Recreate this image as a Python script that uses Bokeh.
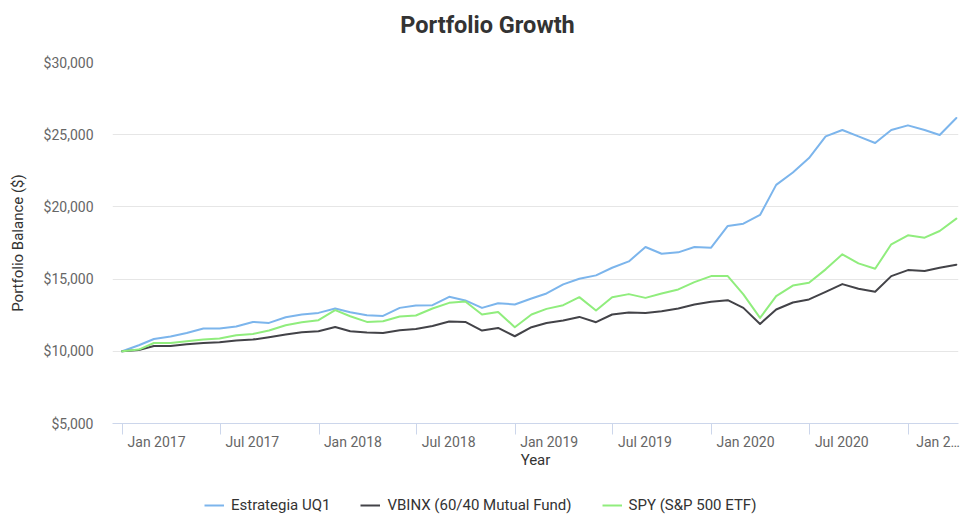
import pandas as pd
from bokeh.plotting import figure
from bokeh.layouts import column
from bokeh.models import (FixedTicker, NumeralTickFormatter, LinearAxis, CustomJSTickFormatter,
                          Legend, LegendItem, Range1d, ColumnDataSource, Label)
from bokeh.embed import file_html
from bokeh.resources import INLINE

# ---------------- data ----------------
dates = pd.date_range("2017-01-01", periods=52, freq="MS") - pd.Timedelta(days=1)

uq1 = [10000, 10417, 10854, 11021, 11271, 11576, 11576, 11715, 12035, 11965,
       12361, 12549, 12660, 12965, 12708, 12500, 12451, 13007, 13173, 13194,
       13771, 13521, 13007, 13333, 13243, 13660, 14007, 14632, 15021, 15257,
       15785, 16225, 17222, 16757, 16854, 17222, 17173, 18680, 18840, 19444,
       21527, 22382, 23382, 24882, 25326, 24882, 24424, 25326, 25646, 25326,
       24979, 26160]

vbinx = [10000, 10090, 10368, 10368, 10486, 10576, 10625, 10743, 10812, 10972,
         11160, 11319, 11389, 11688, 11389, 11299, 11271, 11458, 11549, 11757,
         12063, 12035, 11438, 11618, 11042, 11667, 11965, 12132, 12382, 12014,
         12549, 12680, 12660, 12778, 12965, 13243, 13424, 13541, 13007, 11896,
         12896, 13380, 13590, 14118, 14653, 14326, 14118, 15208, 15625, 15555,
         15785, 15993]

spy = [10000, 10118, 10576, 10576, 10694, 10812, 10882, 11111, 11201, 11438,
       11805, 12014, 12153, 12847, 12430, 12035, 12083, 12410, 12479, 12965,
       13354, 13450, 12549, 12729, 11667, 12549, 12938, 13194, 13750, 12826,
       13750, 13960, 13701, 14007, 14285, 14792, 15208, 15208, 13937, 12313,
       13819, 14550, 14743, 15674, 16715, 16090, 15715, 17409, 18034, 17868,
       18333, 19188]

series_keys = ["uq1", "vbinx", "spy"]
series_names = ["Estrategia UQ1", "VBINX (60/40 Mutual Fund)", "SPY (S&P 500 ETF)"]
series_colors = ["#7cb5ec", "#434348", "#90ed7d"]

y_ticks = [5000, 10000, 15000, 20000, 25000, 30000]
x_tick_dates = pd.date_range("2017-01-01", periods=9, freq="6MS")
x_tick_labels = ["Jan 2017", "Jul 2017", "Jan 2018", "Jul 2018", "Jan 2019",
                 "Jul 2019", "Jan 2020", "Jul 2020", "Jan 2\u2026"]

chart_title = "Portfolio Growth"

# ---------------- styling constants ----------------
FONT = "Roboto"
W = 960
TOP_H, MAIN_H, LEG_H = 40, 457, 20
FRAME_L, FRAME_R = 112, 958          # frame edges in pixels (shared by all strips)
label_shift_days = [63, 60, 63, 60, 63, 60, 63, 60, 55]  # push labels right of tick


def to_ms(ts):
    return float(pd.Timestamp(ts).value // 10**6)


def strip(height):
    fig = figure(width=W, height=height, title=None, output_backend="svg",
                 toolbar_location=None, x_range=Range1d(FRAME_L, FRAME_R),
                 y_range=Range1d(0, height), x_axis_location=None, y_axis_location=None,
                 min_border_left=FRAME_L, min_border_right=W - FRAME_R,
                 min_border_top=0, min_border_bottom=0)
    fig.outline_line_color = None
    fig.grid.visible = False
    fig.background_fill_color = "white"
    fig.border_fill_color = "white"
    return fig


tick_ms = [to_ms(d) for d in x_tick_dates]
label_ms = [to_ms(d + pd.Timedelta(days=s)) for d, s in zip(x_tick_dates, label_shift_days)]

# ---------------- title strip ----------------
top = strip(TOP_H)
top.add_layout(Label(x=487, y=TOP_H - 24, text=chart_title, text_align="center",
                     text_baseline="middle", text_font=FONT, text_font_size="23.5px",
                     text_font_style="bold", text_color="#333333"))

# ---------------- main chart ----------------
src = ColumnDataSource(dict(date=list(dates), uq1=uq1, vbinx=vbinx, spy=spy))

p = figure(width=W, height=MAIN_H, title=None, x_axis_type="datetime",
           output_backend="svg", toolbar_location=None,
           x_range=Range1d(start=to_ms(dates[0] - pd.Timedelta(days=18)),
                           end=to_ms(dates[-1] + pd.Timedelta(days=4))),
           y_range=Range1d(start=5000, end=30000),
           min_border_left=FRAME_L, min_border_right=W - FRAME_R, min_border_top=22,
           min_border_bottom=74)
p.outline_line_color = None
p.background_fill_color = "white"
p.border_fill_color = "white"

p.xgrid.visible = False
p.ygrid.grid_line_color = "#e6e6e6"
p.ygrid.grid_line_width = 1

ya = p.yaxis[0]
ya.ticker = FixedTicker(ticks=y_ticks)
ya.formatter = NumeralTickFormatter(format="$0,0")
ya.axis_line_color = None
ya.major_tick_line_color = None
ya.major_tick_out = 0
ya.major_tick_in = 0
ya.minor_tick_line_color = None
ya.minor_tick_out = 0
ya.major_label_standoff = 19
ya.major_label_text_font = FONT
ya.major_label_text_font_size = "14px"
ya.major_label_text_color = "#666666"
ya.axis_label = "Portfolio Balance ($)"
ya.axis_label_text_font = FONT
ya.axis_label_text_font_size = "15px"
ya.axis_label_text_font_style = "normal"
ya.axis_label_text_color = "#333333"
ya.axis_label_standoff = 14

# x axis 1: tick marks only
xa = p.xaxis[0]
xa.ticker = FixedTicker(ticks=tick_ms)
xa.formatter = CustomJSTickFormatter(code="return '';")
xa.major_label_text_font_size = "0px"
xa.major_label_standoff = 0
xa.axis_line_color = "#ccd6eb"
xa.axis_line_width = 1
xa.major_tick_line_color = "#ccd6eb"
xa.major_tick_in = 0
xa.major_tick_out = 11
xa.minor_tick_line_color = None
xa.minor_tick_in = 0
xa.minor_tick_out = 0

# x axis 2: labels (placed just right of each tick) + axis title
xl = LinearAxis(ticker=FixedTicker(ticks=label_ms),
                formatter=CustomJSTickFormatter(
                    args=dict(tvals=label_ms, labels=x_tick_labels),
                    code="""
let best = 0, bd = Infinity;
for (let i = 0; i < tvals.length; i++) {
  const d = Math.abs(tvals[i] - tick);
  if (d < bd) { bd = d; best = i; }
}
return labels[best];
"""))
xl.axis_line_color = None
xl.major_tick_line_color = None
xl.major_tick_in = 0
xl.major_tick_out = 0
xl.minor_tick_line_color = None
xl.minor_tick_in = 0
xl.minor_tick_out = 0
xl.major_label_standoff = -1
xl.major_label_text_font = FONT
xl.major_label_text_font_size = "14px"
xl.major_label_text_color = "#666666"
xl.axis_label = "Year"
xl.axis_label_text_font = FONT
xl.axis_label_text_font_size = "15px"
xl.axis_label_text_font_style = "normal"
xl.axis_label_text_color = "#333333"
xl.axis_label_standoff = -2
p.add_layout(xl, "below")

for key, color in zip(series_keys, series_colors):
    p.line(x="date", y=key, source=src, line_width=2, line_color=color,
           line_join="round", line_cap="round")

# ---------------- legend strip ----------------
leg = strip(LEG_H)
# legend-only renderers: placed outside the strip's visible range
leg_renderers = [leg.line(x=[-10, -9], y=[-10, -9], line_width=2, line_color=c)
                 for c in series_colors]
legend = Legend(items=[LegendItem(label=n, renderers=[r])
                       for n, r in zip(series_names, leg_renderers)],
                orientation="horizontal", location=(204 - FRAME_L, 3))
legend.border_line_color = None
legend.background_fill_alpha = 0
legend.label_text_font = FONT
legend.label_text_font_size = "15px"
legend.label_text_color = "#333333"
legend.glyph_width = 20
legend.glyph_height = 14
legend.label_height = 14
legend.label_standoff = 7
legend.spacing = 30
legend.padding = 0
legend.margin = 0
leg.add_layout(legend)

layout = column(top, p, leg, spacing=0)

open("out.html", "w").write(file_html(layout, INLINE))
